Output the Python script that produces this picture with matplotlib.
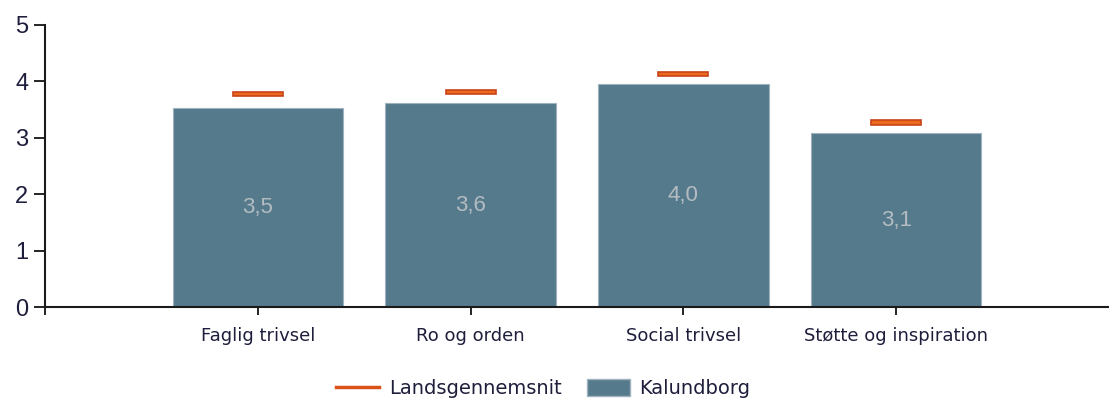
import matplotlib
matplotlib.use("Agg")
import matplotlib.pyplot as plt
from matplotlib.lines import Line2D
from matplotlib.patches import Patch

categories = ["Faglig trivsel", "Ro og orden", "Social trivsel", "Støtte og inspiration"]
kalundborg = [3.53, 3.61, 3.96, 3.08]
landsgennemsnit = [3.77, 3.81, 4.13, 3.27]
value_labels = ["3,5", "3,6", "4,0", "3,1"]
y_ticks = [0, 1, 2, 3, 4, 5]

plt.rcParams['font.family'] = ['Liberation Sans', 'DejaVu Sans']

W, H = 1109, 403
fig = plt.figure(figsize=(W / 100, H / 100), dpi=100)
ax = fig.add_axes([45 / W, (H - 307) / H, (W - 45) / W, (307 - 25) / H])

bar_color = "#557a8c"
x = list(range(len(categories)))
ax.bar(x, kalundborg, width=0.8, color=bar_color, edgecolor="#9fb3bf", linewidth=0.8, zorder=2)
for xi, v, lab in zip(x, kalundborg, value_labels):
    ax.text(xi, v / 2, lab, ha="center", va="center", color="#b4bcc2", fontsize=16, zorder=3)

mh = 0.075
ax.bar(x, [mh] * len(x), bottom=[v - mh / 2 for v in landsgennemsnit], width=0.235,
       color="#ec6a1e", edgecolor="#c8431a", linewidth=1.2, zorder=3)

ax.set_xlim(-1, 4)
ax.set_ylim(0, 5)
ax.set_yticks(y_ticks)
ax.set_yticklabels([str(t) for t in y_ticks], fontsize=17, color="#1e1e3c")
ax.set_xticks([-1] + x)
ax.set_xticklabels([""] + categories, fontsize=13, color="#1e1e3c", family="DejaVu Sans")
ax.tick_params(axis="y", length=8, width=1.2, pad=4)
ax.tick_params(axis="x", length=6, width=1.2, pad=8.5)
for s in ["top", "right"]:
    ax.spines[s].set_visible(False)
for s in ["left", "bottom"]:
    ax.spines[s].set_linewidth(1.5)
    ax.spines[s].set_color("#1a1a1a")

handles = [Line2D([0], [0], color="#d9531a", lw=2.5),
           Patch(facecolor=bar_color, edgecolor="#9fb3bf")]
fig.legend(handles, ["Landsgennemsnit", "Kalundborg"], loc="center", bbox_to_anchor=(0.49, 0.035),
           ncol=2, frameon=False, prop={"family": "DejaVu Sans", "size": 14},
           handlelength=2.2, handleheight=0.95, handletextpad=0.5, columnspacing=1.3,
           labelcolor="#1e1e3c")

fig.savefig("out.png", dpi=100)
